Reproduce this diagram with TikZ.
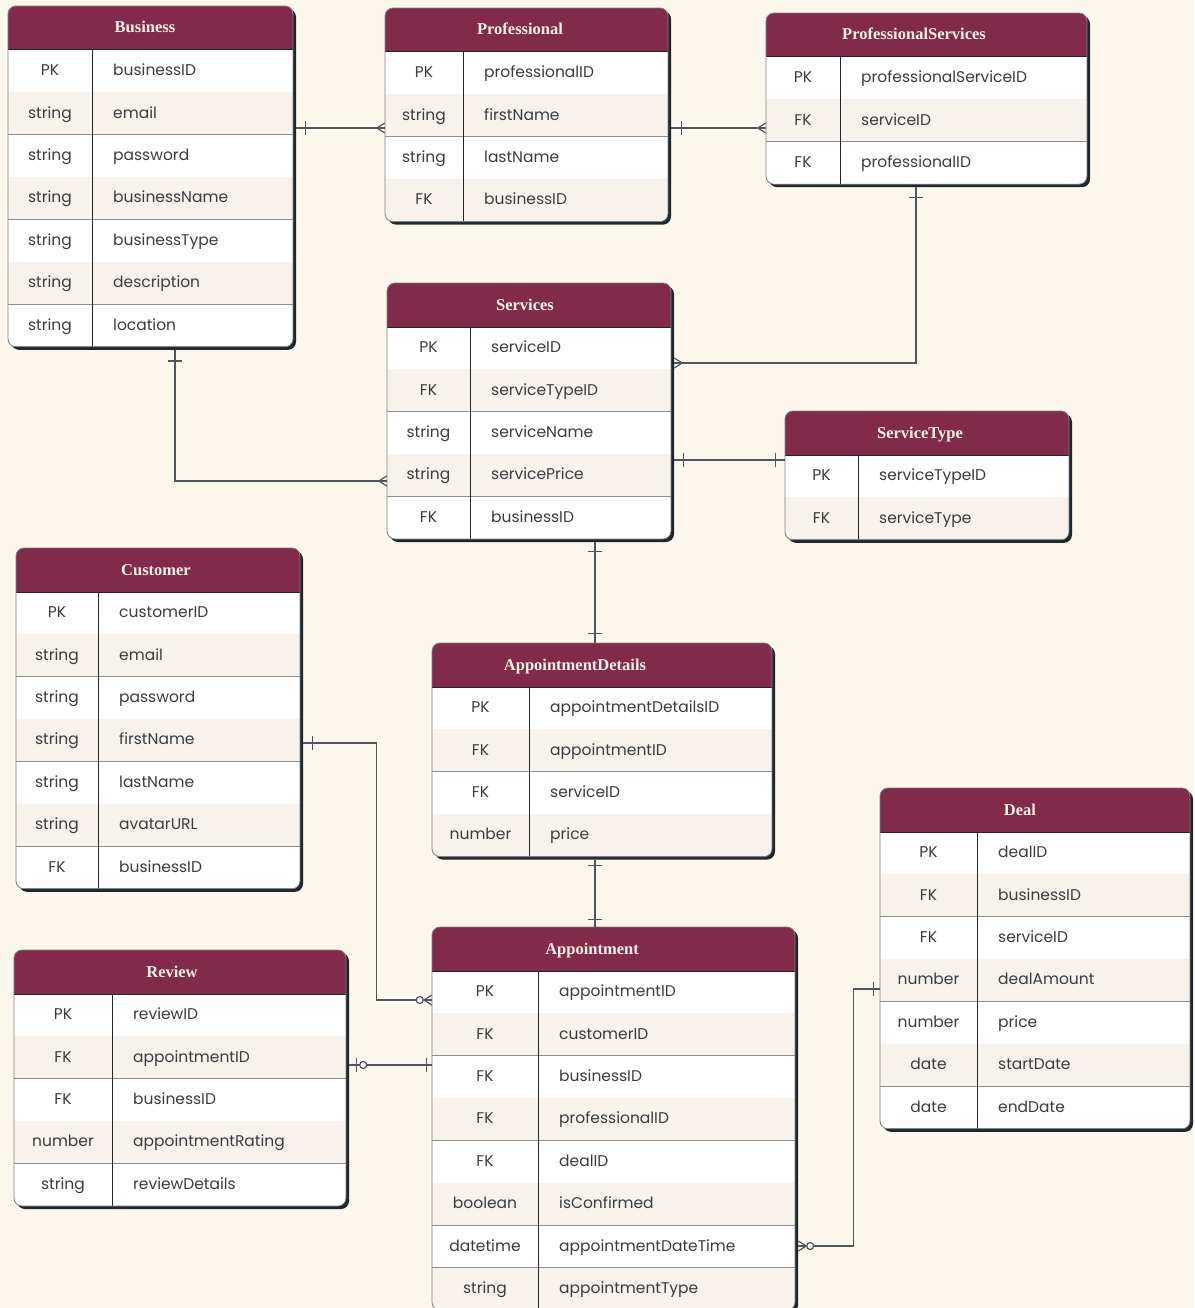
\documentclass[tikz,border=0pt]{standalone}
\usepackage{fontspec}
\setmainfont{Poppins}
\newfontfamily\hdrfont{Liberation Serif}
\usetikzlibrary{fit,calc}
\definecolor{bgc}{HTML}{FCF7EC}
\definecolor{hdrc}{HTML}{812A49}
\definecolor{rowb}{HTML}{F7F2EB}
\definecolor{shc}{HTML}{1E272E}
\definecolor{bordc}{HTML}{808080}
\definecolor{sepc}{HTML}{8E8E8E}
\definecolor{txtc}{HTML}{383D42}
\definecolor{connc}{HTML}{50575C}
\definecolor{titc}{HTML}{FBF3EA}
\tikzset{
 conn/.style={draw=connc, line width=1.2pt},
 typetxt/.style={font=\fontsize{15.5}{18}\selectfont, text=txtc, inner sep=0pt, anchor=base},
 fieldtxt/.style={font=\fontsize{15.5}{18}\selectfont, text=txtc, inner sep=0pt, anchor=base west},
 titletxt/.style={font=\hdrfont\bfseries\fontsize{16.5}{18}\selectfont, text=titc, inner sep=0pt, anchor=base},
}
% #1 name #2 title #3 x1 #4 x2 #5 ytop #6 xdiv #7 nrows #8 rows #9 title x
\newcommand\ertable[9]{%
 \pgfmathsetmacro\ybot{#5+44+42.4*#7}%
 \fill[shc, rounded corners=8pt] (#3+3,#5+3) rectangle (#4+3,\ybot+3);
 \begin{scope}
  \clip[rounded corners=8pt] (#3,#5) rectangle (#4,\ybot);
  \fill[white] (#3,#5) rectangle (#4,\ybot);
  \fill[hdrc] (#3,#5) rectangle (#4,#5+44);
  \foreach \ty/\fd [count=\i] in {#8} {
    \pgfmathsetmacro\ya{#5+44+42.4*(\i-1)}
    \pgfmathsetmacro\yb{\ya+42.4}
    \ifodd\i\relax\else\fill[rowb] (#3,\ya) rectangle (#4,\yb);\fi
    \draw[sepc, line width=0.9pt] (#3,\yb) -- (#4,\yb);
    \node[typetxt] (#1-t\i) at ({(#3+#6)/2},{(\ya+\yb)/2+4.5}) {\ty};
    \node[fieldtxt] (#1-f\i) at (#6+21,{(\ya+\yb)/2+4.5}) {\fd};
  }
  \draw[shc, line width=1pt] (#6,#5+44) -- (#6,\ybot);
  \draw[shc, line width=1pt] (#3,#5+44) -- (#4,#5+44);
 \end{scope}
 \node[titletxt] (#1-title) at (#9,#5+27) {#2};
 \draw[bordc, line width=0.8pt, rounded corners=8pt] (#3,#5) rectangle (#4,\ybot);
 \coordinate (#1-nw) at (#3,#5);
 \coordinate (#1-se) at (#4,\ybot);
 \node[fit=(#1-nw)(#1-se), inner sep=0pt] (#1) {};
}
\newcommand\vtick[1]{\draw[conn] (#1) ++(0,-7) -- ++(0,14);}
\newcommand\htick[1]{\draw[conn] (#1) ++(-7,0) -- ++(14,0);}
\newcommand\crowW[1]{\draw[conn] (#1) ++(0,-5) -- ++(-8,5) -- ++(8,5);}
\newcommand\crowE[1]{\draw[conn] (#1) ++(0,-5) -- ++(8,5) -- ++(-8,5);}
\newcommand\ring[1]{\draw[conn, fill=bgc] (#1) circle (3.5);}
\begin{document}
\begin{tikzpicture}[x=1pt,y=-1pt]
\useasboundingbox (0,0) rectangle (1194,1308);
\fill[bgc] (0,0) rectangle (1194,1308);

\ertable{Business}{Business}{8}{293}{6}{92}{7}{PK/businessID, string/email, string/password, string/businessName, string/businessType, string/description, string/location}{145}
\ertable{Professional}{Professional}{385}{668}{8}{463}{4}{PK/professionalID, string/firstName, string/lastName, FK/businessID}{520}
\ertable{ProfessionalServices}{ProfessionalServices}{766}{1087}{13}{840}{3}{PK/professionalServiceID, FK/serviceID, FK/professionalID}{914}
\ertable{Services}{Services}{387}{671}{283}{470}{5}{PK/serviceID, FK/serviceTypeID, string/serviceName, string/servicePrice, FK/businessID}{525}
\ertable{ServiceType}{ServiceType}{785}{1069}{411}{858}{2}{PK/serviceTypeID, FK/serviceType}{920}
\ertable{Customer}{Customer}{16}{300}{548}{98}{7}{PK/customerID, string/email, string/password, string/firstName, string/lastName, string/avatarURL, FK/businessID}{156}
\ertable{AppointmentDetails}{AppointmentDetails}{432}{772}{643}{529}{4}{PK/appointmentDetailsID, FK/appointmentID, FK/serviceID, number/price}{575}
\ertable{Appointment}{Appointment}{432}{795}{927}{538}{8}{PK/appointmentID, FK/customerID, FK/businessID, FK/professionalID, FK/dealID, boolean/isConfirmed, datetime/appointmentDateTime, string/appointmentType}{592}
\ertable{Review}{Review}{14}{346}{950}{112}{5}{PK/reviewID, FK/appointmentID, FK/businessID, number/appointmentRating, string/reviewDetails}{172}
\ertable{Deal}{Deal}{880}{1190}{788}{977}{7}{PK/dealID, FK/businessID, FK/serviceID, number/dealAmount, number/price, date/startDate, date/endDate}{1020}

% 1 Business - Professional
\coordinate (k1a) at ($(Business.east|-0,128)+(3,0)$);
\coordinate (k1b) at (Professional.west|-0,128);
\draw[conn] (k1a) -- (k1b);
\vtick{$(k1a)+(9,0)$}
\crowW{k1b}
% 2 Professional - ProfessionalServices
\coordinate (k2a) at ($(Professional.east|-0,128)+(3,0)$);
\coordinate (k2b) at (ProfessionalServices.west|-0,128);
\draw[conn] (k2a) -- (k2b);
\vtick{$(k2a)+(10,0)$}
\crowW{k2b}
% 3 ProfessionalServices - Services
\coordinate (k3a) at ($(ProfessionalServices.south-|916,0)+(0,3)$);
\coordinate (k3b) at ($(Services.east|-0,363)+(3,0)$);
\draw[conn] (k3a) |- (k3b);
\htick{$(k3a)+(0,10)$}
\crowE{k3b}
% 4 Services - ServiceType
\coordinate (k4a) at ($(Services.east|-0,460)+(3,0)$);
\coordinate (k4b) at (ServiceType.west|-0,460);
\draw[conn] (k4a) -- (k4b);
\vtick{$(k4a)+(9,0)$}
\vtick{$(k4b)+(-9,0)$}
% 5 Business - Services
\coordinate (k5a) at ($(Business.south-|175,0)+(0,3)$);
\coordinate (k5b) at (Services.west|-0,481);
\draw[conn] (k5a) |- (k5b);
\htick{$(k5a)+(0,11)$}
\crowW{k5b}
% 6 Services - AppointmentDetails
\coordinate (k6a) at ($(Services.south-|595,0)+(0,3)$);
\coordinate (k6b) at (AppointmentDetails.north-|595,0);
\draw[conn] (k6a) -- (k6b);
\htick{$(k6a)+(0,9)$}
\htick{$(k6b)+(0,-9)$}
% 7 AppointmentDetails - Appointment
\coordinate (k7a) at ($(AppointmentDetails.south-|595,0)+(0,3)$);
\coordinate (k7b) at (Appointment.north-|595,0);
\draw[conn] (k7a) -- (k7b);
\htick{$(k7a)+(0,6)$}
\htick{$(k7b)+(0,-7)$}
% 8 Customer - Appointment
\coordinate (k8a) at ($(Customer.east|-0,743)+(3,0)$);
\coordinate (k8b) at (Appointment.west|-0,1000);
\draw[conn] (k8a) -| ($(k8b)+(-55,0)$) -- (k8b);
\vtick{$(k8a)+(9,0)$}
\crowW{k8b}
\ring{$(k8b)+(-12,0)$}
% 9 Review - Appointment
\coordinate (k9a) at ($(Review.east|-0,1065)+(3,0)$);
\coordinate (k9b) at (Appointment.west|-0,1065);
\draw[conn] (k9a) -- (k9b);
\vtick{$(k9a)+(7,0)$}
\ring{$(k9a)+(14,0)$}
\vtick{$(k9b)+(-5,0)$}
% 10 Appointment - Deal
\coordinate (k10a) at ($(Appointment.east|-0,1246)+(3,0)$);
\coordinate (k10b) at (Deal.west|-0,989);
\draw[conn] (k10a) -| ($(k10b)+(-26,0)$) -- (k10b);
\crowE{k10a}
\ring{$(k10a)+(12,0)$}
\vtick{$(k10b)+(-6,0)$}
\end{tikzpicture}
\end{document}
